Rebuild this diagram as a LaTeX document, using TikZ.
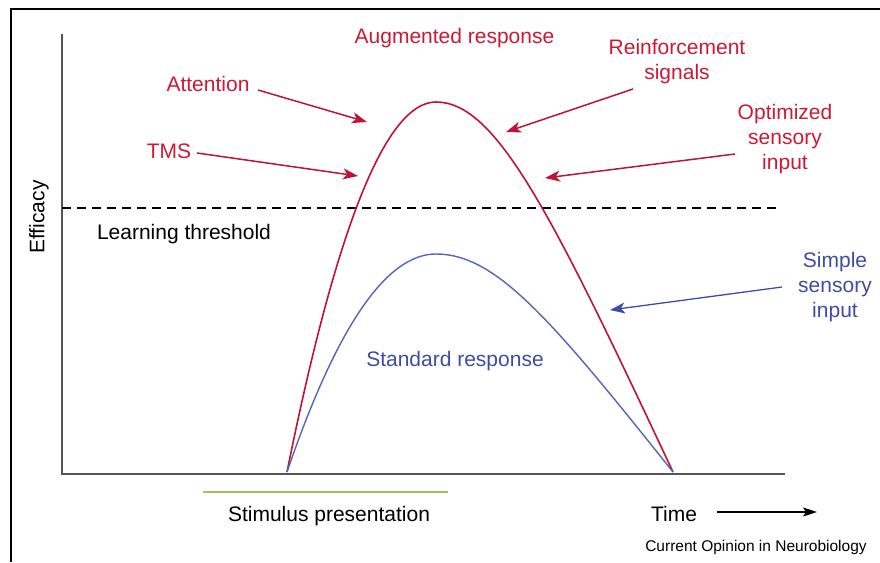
\documentclass[tikz,border=0pt]{standalone}
\usepackage{fontspec}
\setmainfont{Liberation Sans}
\usetikzlibrary{arrows.meta}
\definecolor{myred}{HTML}{CC1A35}
\definecolor{arrred}{HTML}{BE1438}
\definecolor{myblue}{HTML}{3D4DA3}
\definecolor{curveblue}{HTML}{5565B8}
\definecolor{mygreen}{HTML}{9CC65A}
\definecolor{axisgray}{HTML}{555555}
\begin{document}
\begin{tikzpicture}[x=1pt,y=-1pt,
  lbl/.style={inner sep=0pt, font=\fontsize{21}{25}\selectfont},
  redlbl/.style={lbl, text=myred},
  bluelbl/.style={lbl, text=myblue},
  redarr/.style={draw=arrred, line width=1.5pt, -{Stealth[length=15pt,width=11pt,inset=4pt]}},
  bluearr/.style={draw=myblue, line width=1.3pt, -{Stealth[length=15pt,width=11pt,inset=4pt]}},
  redcurve/.style={draw=arrred, line width=1.6pt},
  bluecurve/.style={draw=curveblue, line width=1.4pt}]
\useasboundingbox (0,0) rectangle (880,562);
% frame
\draw[line width=1.5pt] (11,562) -- (11,9) -- (880,9);
% axes
\draw[axisgray, line width=2pt] (62,34) -- (62,474) -- (785,474);
% threshold
\draw[black, line width=1.2pt, dash pattern=on 9pt off 6pt] (62,208) -- (778,208);
% curves
\coordinate (start) at (287,472);
\coordinate (stop) at (673,472);
\coordinate (redpeak) at (436,102);
\coordinate (bluepeak) at (436,254);
\draw[redcurve] (start) .. controls (336.7,225.3) and (386.3,102) .. (redpeak)
  .. controls (496,102) and (551,212) .. (stop);
\draw[bluecurve] (start) .. controls (336.7,326.7) and (386.3,254) .. (bluepeak)
  .. controls (496,254) and (551,318.9) .. (stop);
% stimulus bar
\draw[mygreen, line width=2pt] (203,492) -- (448,492);
% labels
\node[lbl, rotate=90] (eff) at (39,217) {Efficacy};
\node[lbl, anchor=base] (thr) at (184,239) {Learning threshold};
\node[redlbl, anchor=base] (aug) at (454.5,43) {Augmented response};
\node[redlbl, align=center] (reinf) at (677,62) {Reinforcement\\signals};
\node[redlbl, anchor=base] (att) at (208,91) {Attention};
\node[redlbl, anchor=base] (tms) at (169,158) {TMS};
\node[redlbl, align=center] (opt) at (785,139) {Optimized\\sensory\\input};
\node[bluelbl, align=center] (simple) at (835,287) {Simple\\sensory\\input};
\node[bluelbl, anchor=base] (std) at (455,366) {Standard response};
\node[lbl, anchor=base] (stim) at (329,521) {Stimulus presentation};
\node[lbl, anchor=base] (time) at (674,521) {Time};
\node[inner sep=0pt, font=\fontsize{15.5}{18}\selectfont, anchor=base] (cite) at (756,551) {Current Opinion in Neurobiology};
% arrow coordinates
\coordinate (attS) at (258,90);   \coordinate (attT) at (367,122);
\coordinate (tmsS) at (197,153);  \coordinate (tmsT) at (358,176);
\coordinate (reiS) at (633,89);   \coordinate (reiT) at (506,132);
\coordinate (optS) at (735,154);  \coordinate (optT) at (545,178);
\coordinate (simS) at (782,287);  \coordinate (simT) at (610,310);
\coordinate (timS) at (717,512);  \coordinate (timT) at (817,512);
\draw[redarr] (attS) -- (attT);
\draw[redarr] (tmsS) -- (tmsT);
\draw[redarr] (reiS) -- (reiT);
\draw[redarr] (optS) -- (optT);
\draw[bluearr] (simS) -- (simT);
\draw[black, line width=1.2pt, -{Stealth[length=14pt,width=9pt,inset=3pt]}] (timS) -- (timT);
\end{tikzpicture}
\end{document}
